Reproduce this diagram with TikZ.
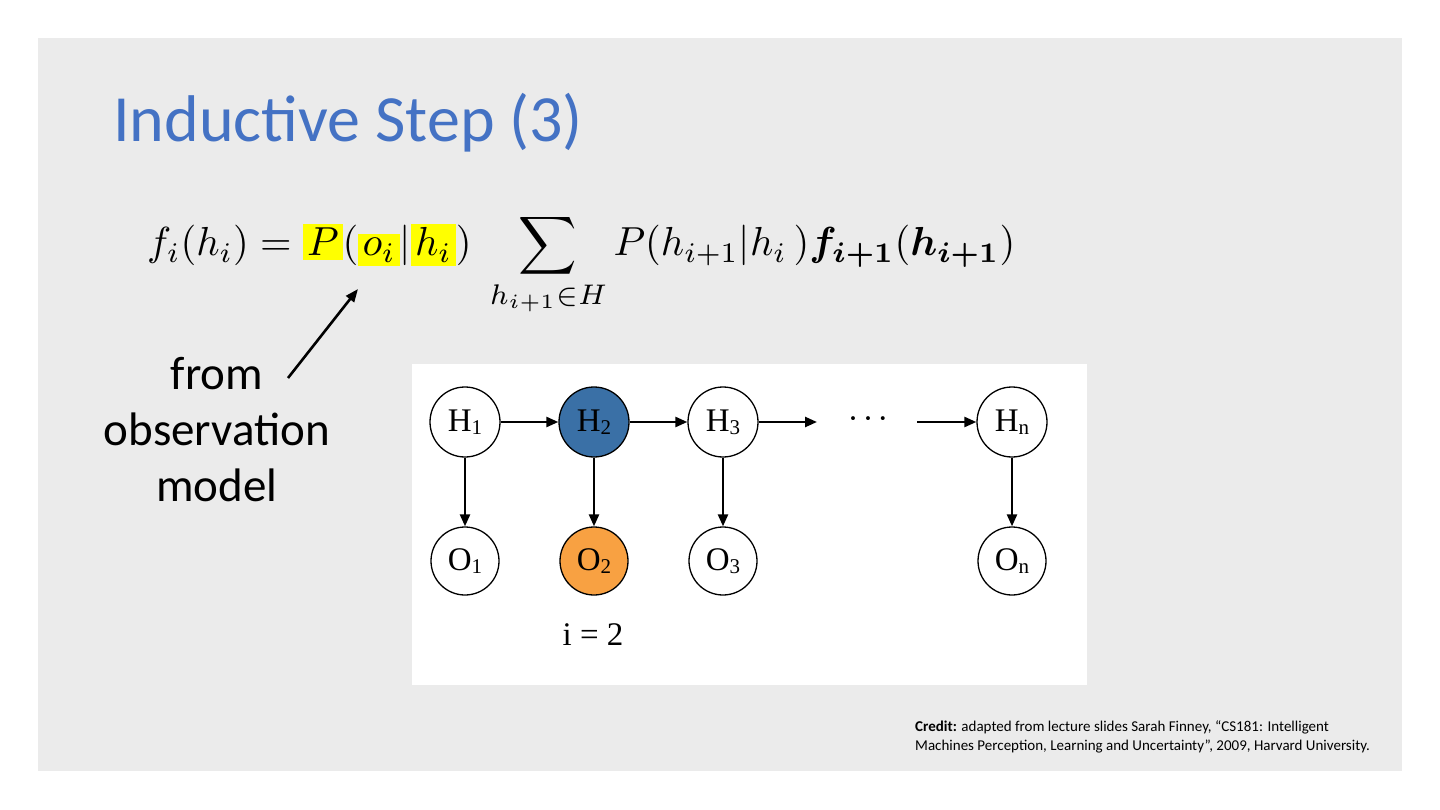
\documentclass[tikz,border=0pt]{standalone}
\usepackage{amsmath}
\usepackage{bm}
\usepackage{graphicx}
\usepackage{fontspec}
\setmainfont{Carlito}
\newfontfamily\timesf{Liberation Serif}
\usetikzlibrary{arrows.meta}
\definecolor{slidebg}{RGB}{235,235,235}
\definecolor{titleblue}{RGB}{68,114,196}
\definecolor{hnode}{RGB}{58,112,166}
\definecolor{onode}{RGB}{248,161,66}
\definecolor{hl}{RGB}{255,255,0}
\newcommand{\nsb}[1]{\raisebox{-3pt}{\fontsize{21}{21}\selectfont #1}}
\begin{document}
\begin{tikzpicture}[x=1pt,y=-1pt,
  hid/.style={circle, draw=black, line width=1.3pt, minimum size=70pt, inner sep=0pt,
    fill=white, font=\timesf\fontsize{33}{33}\selectfont},
  obsv/.style={hid, minimum size=68pt},
  edge/.style={line width=2.4pt, -{Triangle[length=12pt,width=10pt]}},
  pointer/.style={line width=2.6pt, -{Triangle[length=13pt,width=10pt]}},
  plain/.style={inner sep=0pt}]
\useasboundingbox (0,0) rectangle (1440,810);
\fill[white] (0,0) rectangle (1440,810);
\fill[slidebg] (38,38) rectangle (1402,771);

% title
\node[plain, anchor=base west, text=titleblue, font=\fontsize{66}{70}\selectfont] (title) at (113,142) {Inductive Step (3)};

% formula
\setlength{\fboxsep}{1pt}
\node[plain, anchor=base west] (formula) at (147,256) {\resizebox{868pt}{!}{$\displaystyle
  f_i(h_i) = \colorbox{hl}{$P$}(\colorbox{hl}{$o_i$}|\colorbox{hl}{$h_i$})\;
  \sum_{h_{i+1}\in H} P(h_{i+1}|h_i\,)\bm{f}_{\bm{i+1}}(\bm{h}_{\bm{i+1}})$}};

% annotation (base anchor = last line)
\node[plain, anchor=base, align=center, font=\fontsize{47}{56}\selectfont] (note) at (217,501) {from\\observation\\model};
\coordinate (ptail) at (288,378);
\coordinate (phead) at (358,289);
\draw[pointer] (ptail) -- (phead);

% image panel
\fill[white] (412,364) rectangle (1087,685);

\node[hid] (H1) at (465,422) {H\nsb{1}};
\node[hid, fill=hnode] (H2) at (594,422) {H\nsb{2}};
\node[hid] (H3) at (723,422) {H\nsb{3}};
\node[hid] (Hn) at (1012,422) {H\nsb{n}};
\node[obsv] (O1) at (465,561) {O\nsb{1}};
\node[obsv, fill=onode] (O2) at (594,561) {O\nsb{2}};
\node[obsv] (O3) at (723,561) {O\nsb{3}};
\node[obsv] (On) at (1012,561) {O\nsb{n}};
\node[plain, anchor=base, font=\timesf\fontsize{33}{33}\selectfont] (dots) at (868,429) {·\hspace{4pt}·\hspace{4pt}·};
\node[plain, anchor=base, font=\timesf\fontsize{33}{33}\selectfont] (ilab) at (593,645) {i = 2};
\coordinate (d1) at (817,422);
\coordinate (d2) at (917,422);

\draw[edge] (H1) -- (H2);
\draw[edge] (H2) -- (H3);
\draw[edge] (H3) -- (d1);
\draw[edge] (d2) -- (Hn);
\draw[edge] (H1) -- (O1);
\draw[edge] (H2) -- (O2);
\draw[edge] (H3) -- (O3);
\draw[edge] (Hn) -- (On);

% credit (base anchor = last line)
\node[plain, anchor=base west, align=left, font=\fontsize{15}{19}\selectfont] (credit) at (915,750)
  {\textbf{Credit:} adapted from lecture slides Sarah Finney, “CS181: Intelligent\\Machines Perception, Learning and Uncertainty”, 2009, Harvard University.};
\end{tikzpicture}
\end{document}
